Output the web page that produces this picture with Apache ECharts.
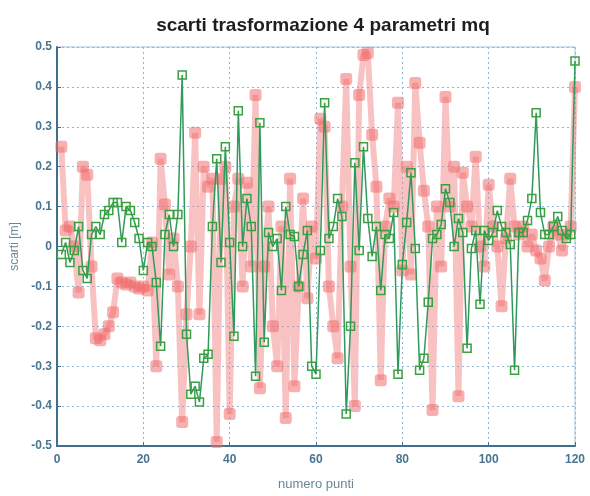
<!DOCTYPE html>
<html><head><meta charset="utf-8">
<script src="https://cdn.jsdelivr.net/npm/echarts@6/dist/echarts.min.js"></script>
<style>html,body{margin:0;padding:0;background:#fff}#c{width:590px;height:496px}</style>
</head><body><div id="c"></div>
<script>
const titleText = "scarti trasformazione 4 parametri mq";
const xName = "numero punti";
const yName = "scarti [m]";
const xTicks = [0, 20, 40, 60, 80, 100, 120];
const yTicks = [-0.5, -0.4, -0.3, -0.2, -0.1, 0, 0.1, 0.2, 0.3, 0.4, 0.5];

const redValues = [
 0.25, 0.04, 0.05, 0.0, -0.115, 0.2, 0.18, -0.05, -0.23, -0.235,
 -0.22, -0.2, -0.165, -0.08, -0.09, -0.095, -0.09, -0.1, -0.105, -0.1,
 -0.11, 0.01, -0.3, 0.22, 0.105, -0.07, 0.02, -0.1, -0.44, -0.17,
 0.0, 0.285, -0.17, 0.2, 0.15, 0.17, -0.49, 0.17, 0.2, -0.42,
 0.1, 0.17, -0.1, 0.16, -0.05, 0.38, -0.355, -0.05, 0.1, -0.2,
 -0.3, 0.05, -0.43, 0.17, -0.35, -0.1, 0.12, -0.13, 0.05, -0.03,
 0.32, 0.3, -0.1, -0.2, -0.28, 0.1, 0.42, -0.05, -0.4, 0.38,
 0.48, 0.485, 0.28, 0.15, -0.335, 0.05, 0.12, 0.1, 0.36, -0.06,
 0.2, -0.07, 0.41, 0.26, 0.14, 0.05, -0.41, 0.1, -0.05, 0.375,
 0.1, 0.2, -0.375, 0.185, 0.1, 0.05, 0.225, 0.0, -0.05, 0.155,
 0.05, 0.0, -0.15, 0.02, 0.17, 0.05, 0.03, 0.05, 0.0, 0.03,
 -0.01, -0.03, -0.085, 0.0, 0.05, 0.03, -0.01, 0.03, 0.05, 0.4
];

const greenValues = [
 -0.02, 0.01, -0.04, -0.01, 0.05, -0.06, -0.08, 0.03, 0.05, 0.03,
 0.08, 0.09, 0.11, 0.11, 0.01, 0.1, 0.09, 0.06, 0.02, -0.06,
 0.01, 0.0, -0.09, -0.25, 0.03, 0.08, 0.0, 0.08, 0.43, -0.22,
 -0.37, -0.35, -0.39, -0.28, -0.27, 0.05, 0.22, -0.04, 0.25, 0.01,
 -0.225, 0.34, 0.0, 0.12, 0.05, -0.325, 0.31, -0.24, 0.035, 0.0,
 0.02, -0.11, 0.1, 0.03, 0.025, -0.1, -0.02, 0.04, -0.3, -0.32,
 -0.01, 0.36, 0.02, 0.05, 0.12, 0.075, -0.42, -0.2, 0.21, -0.01,
 0.25, 0.07, -0.025, 0.05, -0.11, 0.03, 0.02, 0.085, -0.32, -0.045,
 0.06, 0.185, -0.005, -0.31, -0.28, -0.14, 0.02, 0.03, 0.055, 0.145,
 0.11, 0.0, 0.07, 0.035, -0.255, -0.005, 0.04, -0.145, 0.04, 0.015,
 0.035, 0.09, 0.05, 0.035, 0.005, -0.31, 0.035, 0.035, 0.065, 0.12,
 0.335, 0.085, 0.03, 0.03, 0.05, 0.075, 0.04, 0.02, 0.03, 0.465
];

const redData = redValues.map((v, i) => [i + 1, v]);
const greenData = greenValues.map((v, i) => [i + 1, v]);

const axisColor = '#3f6f8c';
const font = 'Liberation Sans, Arial, sans-serif';
const chart = echarts.init(document.getElementById('c'), null, {renderer: 'canvas'});
chart.setOption({
  animation: false,
  backgroundColor: '#fff',
  title: {
    text: titleText, left: 318, top: 11, textAlign: 'center',
    textStyle: {fontFamily: font, fontSize: 19, fontWeight: 'bold', color: '#1e1e1e'}
  },
  grid: {left: 57, right: 15, top: 47, bottom: 48, show: true, borderColor: '#a9c2d4', borderWidth: 1},
  xAxis: {
    type: 'value', min: 0, max: 120, interval: 20,
    name: xName, nameLocation: 'middle', nameGap: 32,
    nameTextStyle: {fontFamily: font, fontSize: 13, color: '#6a8799'},
    axisLine: {show: true, onZero: false, lineStyle: {color: axisColor, width: 2}},
    axisTick: {show: true, inside: true, length: 4, lineStyle: {color: axisColor}},
    axisLabel: {color: '#4a7590', fontSize: 12, fontWeight: 'bold', fontFamily: font, margin: 8},
    splitLine: {show: true, lineStyle: {color: '#8fb6d6', type: [2, 3], width: 1}}
  },
  yAxis: {
    type: 'value', min: -0.5, max: 0.5, interval: 0.1,
    name: yName, nameLocation: 'middle', nameGap: 36,
    nameTextStyle: {fontFamily: font, fontSize: 12, color: '#6a8799'},
    axisLine: {show: true, onZero: false, lineStyle: {color: axisColor, width: 2}},
    axisTick: {show: true, inside: true, length: 4, lineStyle: {color: axisColor}},
    axisLabel: {color: '#4a7590', fontSize: 12, fontWeight: 'bold', fontFamily: font, margin: 5,
      formatter: v => String(Math.round(v * 10) / 10)},
    splitLine: {show: true, lineStyle: {color: '#8fb6d6', type: [2, 3], width: 1}}
  },
  series: [
    {
      name: 'red', type: 'line', data: redData,
      symbol: 'roundRect', symbolSize: 12, showAllSymbol: true,
      lineStyle: {color: 'rgba(242,120,120,0.45)', width: 6},
      itemStyle: {color: 'rgba(240,110,110,0.55)', borderWidth: 0},
      z: 2
    },
    {
      name: 'green', type: 'line', data: greenData,
      symbol: 'rect', symbolSize: 8, showAllSymbol: true,
      lineStyle: {color: '#2f9a5a', width: 1.5},
      itemStyle: {color: 'rgba(255,255,255,0)', borderColor: '#3aa040', borderWidth: 1.5},
      z: 3
    }
  ]
});
</script>
</body></html>
